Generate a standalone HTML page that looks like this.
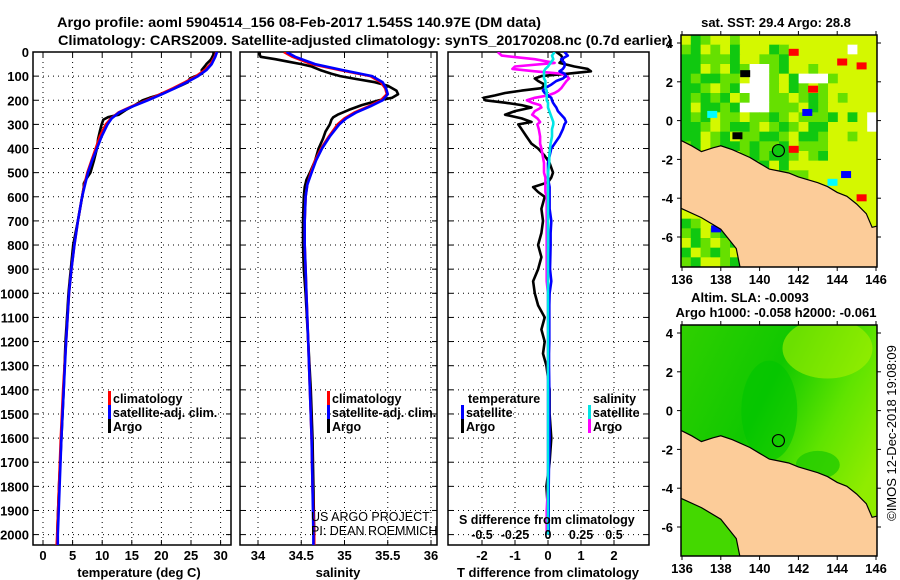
<!DOCTYPE html>
<html><head><meta charset="utf-8"><style>
html,body{margin:0;padding:0;background:#fff}
svg{display:block}
text{font-family:"Liberation Sans",sans-serif;font-weight:bold;fill:#000}
.thin{font-weight:normal}
</style></head><body>
<svg id="fig" width="900" height="580" viewBox="0 0 900 580">
<rect width="900" height="580" fill="#fff"/>
<text x="57" y="27" font-size="14" textLength="484" lengthAdjust="spacingAndGlyphs">Argo profile: aoml 5904514_156 08-Feb-2017 1.545S 140.97E (DM data)</text>
<text x="58" y="45" font-size="14" textLength="614" lengthAdjust="spacingAndGlyphs">Climatology: CARS2009. Satellite-adjusted climatology: synTS_20170208.nc (0.7d earlier)</text>
<g id="g1"></g>
<g id="g2"></g>
<g id="g3"></g>
<g id="m1"></g>
<g id="m2"></g>
<text x="776" y="27" font-size="13" text-anchor="middle">sat. SST: 29.4 Argo: 28.8</text>
<text x="750" y="302" font-size="13" text-anchor="middle">Altim. SLA: -0.0093</text>
<text x="776" y="317" font-size="13" text-anchor="middle">Argo h1000: -0.058 h2000: -0.061</text>
<text x="0" y="0" font-size="13" class="thin" transform="translate(896,433) rotate(-90)" text-anchor="middle">©IMOS 12-Dec-2018 19:08:09</text>
</svg>
<script>
// ---- profile data ----
const depthC = [0,20,50,75,100,125,150,175,200,225,250,275,300,350,400,450,500,550,600,700,800,900,1000,1200,1400,1600,1800,2000,2050];
const tClim = [29.3,29,28.3,27.3,25.9,24,22,19.8,17.5,15,12.8,11.5,10.6,9.6,8.9,8.2,7.5,7,6.6,5.9,5.3,4.8,4.4,3.9,3.4,3.0,2.7,2.4,2.3];
const tSat = [29.4,29.1,28.5,27.6,26.2,24.3,22.3,20.1,17.7,15.2,12.9,11.6,10.9,9.9,9.1,8.3,7.6,7.1,6.6,5.9,5.3,4.8,4.4,3.9,3.5,3.1,2.8,2.5,2.5];
const sClim = [34.3,34.4,34.62,34.95,35.3,35.42,35.47,35.49,35.42,35.28,35.12,35.0,34.92,34.82,34.73,34.66,34.61,34.57,34.55,34.54,34.54,34.55,34.56,34.58,34.6,34.62,34.63,34.65,34.65];
const sSat = [34.33,34.43,34.66,34.98,35.32,35.44,35.48,35.5,35.44,35.3,35.14,35.02,34.94,34.83,34.74,34.67,34.62,34.57,34.55,34.54,34.54,34.55,34.56,34.58,34.6,34.62,34.63,34.64,34.64];
const depthA = [0,10,20,30,40,50,60,75,90,100,110,125,140,160,175,190,200,220,240,260,270,280,300,330,360,400,450,500,530,545,560,600,700,800,900,1000,1200,1400,1600,1800,2000];
const tArgo = [28.8,28.8,28.6,28.4,28.0,27.6,27.3,26.8,26.9,25.8,24.8,24.5,23.2,21.3,20.0,18.0,16.8,15.5,14.0,12.8,11.0,10.2,9.9,9.6,9.3,9.1,8.6,8.0,7.2,6.9,6.9,6.6,5.9,5.1,4.7,4.3,3.8,3.5,3.1,2.7,2.4];
const sArgo = [34.02,34.02,34.03,34.2,34.35,34.5,34.62,34.72,34.85,34.95,35.1,35.35,35.5,35.6,35.62,35.55,35.4,35.2,35.05,34.92,34.87,34.85,34.83,34.78,34.75,34.7,34.66,34.6,34.56,34.55,34.54,34.53,34.52,34.52,34.53,34.55,34.58,34.61,34.63,34.64,34.65];
const depthD = [0,15,30,45,60,70,80,90,100,110,120,135,150,160,170,180,190,200,210,220,230,245,260,275,290,300,320,350,380,400,430,460,500,520,540,560,580,600,650,700,750,800,850,900,950,1000,1050,1100,1150,1200,1250,1300,1400,1500,1600,1700,1800,1900,2000];
const tdArgo = [0.25,0.4,0.45,0.35,0.8,1.2,1.3,0.6,-0.2,-0.4,-0.3,-0.1,-0.2,-0.8,-1.3,-1.6,-1.95,-1.9,-1.3,-0.8,-0.5,-1.0,-1.3,-0.8,-0.5,-0.9,-0.8,-0.65,-0.5,-0.3,-0.1,0.05,0.15,0.1,0.0,-0.45,-0.3,-0.1,-0.2,-0.15,-0.2,-0.3,-0.2,-0.3,-0.45,-0.4,-0.3,-0.1,-0.2,-0.1,-0.15,-0.05,0.05,0.05,0.1,0.05,-0.05,0.0,0.02];
const tdSat = [0.5,0.6,0.4,0.5,0.5,0.45,0.35,0.5,0.55,0.45,0.25,0.1,-0.1,-0.15,-0.1,0.0,0.1,0.12,0.15,0.2,0.25,0.3,0.4,0.5,0.55,0.5,0.45,0.35,0.2,0.1,0.05,0.0,0.0,0.0,0.02,0.05,0.05,0.05,0.05,0.1,0.08,0.08,0.07,0.06,0.1,0.05,0.04,0.04,0.04,0.04,0.03,0.03,0.04,0.04,0.05,0.03,0.02,0.02,0.02];
const sdArgo = [-0.38,-0.35,-0.1,0.05,-0.25,-0.27,-0.1,0.1,0.14,0.16,0.14,0.12,0.1,0.08,0.05,0.0,-0.1,-0.16,-0.12,-0.06,-0.05,-0.1,-0.12,-0.08,-0.06,-0.08,-0.07,-0.06,-0.06,-0.05,-0.04,-0.03,-0.03,-0.02,-0.02,-0.02,-0.02,-0.01,-0.01,-0.01,-0.01,-0.01,-0.01,-0.01,-0.01,0.0,0.0,0.0,0.0,0.0,0.0,0.0,0.0,0.0,0.0,0.0,0.0,-0.01,-0.01];
const sdSat = [0.05,0.03,0.04,0.02,0.0,-0.02,-0.03,-0.03,-0.03,-0.03,-0.02,-0.02,-0.02,-0.01,-0.01,-0.01,-0.01,-0.01,0.0,0.0,0.0,0.01,0.02,0.03,0.04,0.04,0.03,0.03,0.02,0.015,0.01,0.01,0.0,0.0,0.0,0.0,0.0,0.0,0.0,0.0,0.0,0.0,0.0,0.0,0.0,0.0,0.0,0.0,0.0,0.0,0.0,0.0,0.0,0.0,0.0,0.0,0.0,0.0,0.0];
const depthTicks = [0,100,200,300,400,500,600,700,800,900,1000,1100,1200,1300,1400,1500,1600,1700,1800,1900,2000];
const tTicks = [0,5,10,15,20,25,30];
const sTicks = [34,34.5,35,35.5,36];
const sTickLabels = ["34","34.5","35","35.5","36"];
const tdTicks = [-2,-1,0,1,2];
const sdTicks = [-0.5,-0.25,0,0.25,0.5];
const sdTickLabels = ["-0.5","-0.25","0","0.25","0.5"];
// ---- map axes ----
const lonTicks = [136,138,140,142,144,146];
const latTicks = [4,2,0,-2,-4,-6];

const NS="http://www.w3.org/2000/svg";
function mk(tag,attrs,parent){const e=document.createElementNS(NS,tag);for(const k in attrs)e.setAttribute(k,attrs[k]);parent.appendChild(e);return e;}
const TOP=52,BOT=545;
const yD=d=>TOP+d*0.2413;
const xT=t=>43+t*5.92;
const xS=s=>258+(s-34)*86.5;
const xTd=v=>548+v*33;
const xSd=v=>548+v*132;
const panels=[{g:'g1',x0:33,x1:231},{g:'g2',x0:240,x1:437},{g:'g3',x0:448,x1:649}];
const defs=mk('defs',{},document.getElementById('fig'));
panels.forEach((p,i)=>{const c=mk('clipPath',{id:'c'+i},defs);mk('rect',{x:p.x0,y:TOP,width:p.x1-p.x0,height:BOT-TOP},c);});

function grid(g,x0,x1,xs){
  depthTicks.forEach(d=>{const l=mk('line',{x1:x0,x2:x1,y1:yD(d),y2:yD(d),stroke:'#000','stroke-width':1,'stroke-dasharray':'1,4'},g);
    
    
    mk('line',{x1:x0,x2:x0+5,y1:yD(d),y2:yD(d),stroke:'#000'},g);mk('line',{x1:x1-5,x2:x1,y1:yD(d),y2:yD(d),stroke:'#000'},g);});
  xs.forEach(x=>{const l=mk('line',{x1:x,x2:x,y1:TOP,y2:BOT,stroke:'#000','stroke-width':1,'stroke-dasharray':'1,4'},g);
    
    
    mk('line',{x1:x,x2:x,y1:BOT-5,y2:BOT,stroke:'#000'},g);mk('line',{x1:x,x2:x,y1:TOP,y2:TOP+5,stroke:'#000'},g);});
  const r=mk('rect',{x:x0,y:TOP,width:x1-x0,height:BOT-TOP,fill:'none',stroke:'#000','stroke-width':1.5},g);
  
  
}
function line(g,clip,ds,vs,fx,color,name){
  const pts=ds.map((d,i)=>fx(vs[i]).toFixed(1)+','+yD(d).toFixed(1)).join(' ');
  const p=mk('polyline',{points:pts,fill:'none',stroke:color,'stroke-width':2.6,'stroke-linejoin':'round','clip-path':'url(#'+clip+')'},g);
  
  
}
function txt(g,x,y,s,size,anchor,name,cls){const t=mk('text',{x:x,y:y,'font-size':size,'text-anchor':anchor},g);if(cls)t.setAttribute('class',cls);t.textContent=s;
  
  return t;}
function legend(g,x,y,color,label){
  const b=mk('rect',{x:x,y:y-7,width:3,height:14,fill:color},g);
  
  
  txt(g,x+5,y+5,label,12.5,'start','legend-entry');
}
// panel 1
const g1=document.getElementById('g1');
grid(g1,33,231,tTicks.map(xT));
depthTicks.forEach(d=>txt(g1,29,yD(d)+5,String(d),13,'end','depth-tick-label'));
tTicks.forEach(t=>txt(g1,xT(t),560,String(t),13,'middle','temperature-tick-label'));
txt(g1,139,577,'temperature (deg C)',13,'middle','temperature-axis-title');
line(g1,'c0',depthA,tArgo,xT,'#000','argo-temperature-line');
line(g1,'c0',depthC,tClim,xT,'#ff0000','climatology-temperature-line');
line(g1,'c0',depthC,tSat,xT,'#0000ff','satellite-temperature-line');
legend(g1,108,398,'#ff0000','climatology');
legend(g1,108,412,'#0000ff','satellite-adj. clim.');
legend(g1,108,426,'#000','Argo');
// panel 2
const g2=document.getElementById('g2');
grid(g2,240,437,sTicks.map(xS));
sTicks.forEach((s,i)=>txt(g2,xS(s),560,sTickLabels[i],13,'middle','salinity-tick-label'));
txt(g2,338,577,'salinity',13,'middle','salinity-axis-title');
line(g2,'c1',depthA,sArgo,xS,'#000','argo-salinity-line');
line(g2,'c1',depthC,sClim,xS,'#ff0000','climatology-salinity-line');
line(g2,'c1',depthC,sSat,xS,'#0000ff','satellite-salinity-line');
legend(g2,327,398,'#ff0000','climatology');
legend(g2,327,412,'#0000ff','satellite-adj. clim.');
legend(g2,327,426,'#000','Argo');
txt(g2,311,521,'US ARGO PROJECT',12.5,'start','credit-project','thin');
txt(g2,311,535,'PI: DEAN ROEMMICH',12.5,'start','credit-pi','thin');
// panel 3
const g3=document.getElementById('g3');
grid(g3,448,649,tdTicks.map(xTd));
tdTicks.forEach(t=>txt(g3,xTd(t),560,String(t),13,'middle','t-diff-tick-label'));
txt(g3,548,577,'T difference from climatology',13,'middle','t-diff-axis-title');
line(g3,'c2',depthD,tdArgo,xTd,'#000','argo-t-diff-line');
line(g3,'c2',depthD,sdArgo,xSd,'#ff00ff','argo-s-diff-line');
line(g3,'c2',depthD,tdSat,xTd,'#0000ff','satellite-t-diff-line');
line(g3,'c2',depthD,sdSat,xSd,'#00e5e5','satellite-s-diff-line');
txt(g3,468,403,'temperature',12.5,'start','legend-title-temperature');
txt(g3,593,403,'salinity',12.5,'start','legend-title-salinity');
legend(g3,461,412,'#0000ff','satellite');
legend(g3,461,426,'#000','Argo');
legend(g3,588,412,'#00e5e5','satellite');
legend(g3,588,426,'#ff00ff','Argo');
txt(g3,459,524,'S difference from climatology',12.5,'start','s-diff-axis-title');
sdTicks.forEach((s,i)=>txt(g3,xSd(s),539,sdTickLabels[i],12.5,'middle','s-diff-tick-label'));

// ---- maps ----
const MX0=681,MX1=877,PX=19.4;
const lx=l=>682+(l-136)*PX;
const land=[[135.9,-1.0],[136.5,-1.3],[137,-1.6],[137.6,-1.4],[138,-1.3],[138.6,-1.5],[139.5,-1.9],[140,-2.2],[140.5,-2.5],[141,-2.6],[141.5,-2.7],[142,-2.9],[143,-3.2],[143.5,-3.4],[144,-3.7],[144.5,-3.9],[145,-4.3],[145.5,-4.8],[145.8,-5.5],[146.2,-5.4],[146.2,-7.6],[139,-7.6],[138.8,-6.6],[138,-5.6],[137,-5.0],[135.9,-4.5]];
const sstRows=["yglyylyyyyyyyyyyyyyy","lgylygyyyglyyyyyywyy","gglllgyyllgyyyyyyyyy","ggylyglwwlgyylyyyyyy","glggllywwlygwwwlyyyy","gglylgwwwlyglylyyyyy","glglgylwwllylglylyyy","gygglgwwwlllyglyyyyy","glgyllyllglylllgygyw","gglylgglylglyggyyyyw","ggylgyllgglygglyylyy","lgylgglgllgylllyyyyy","ywllgylglgglylgyyyyy","ylyylgglgygyyyyyyyyy","ylyyyyyylglllyyyyyyy","yyyyyyyyyglgyyyyyyyy","yyyyyyyyyyyygyyyyyyy","yyyyyyyyyyyyyyggyyyy","yyyyyyyyyyyyyyyyyyyy","glyylyyyyyyyyyyyyyyy","lgylgyyyyyyyyyyyyyyy","yglylgyyyyyyyyyyyyyy","gylglyyyyyyyyyyyyyyy","lgyylgyyyyyyyyyyyyyy"];
const cellColors={y:'#d4f800',g:'#10c810',l:'#66e000',w:'#ffffff'};
function drawMap(id,top,bot,isSST){
  const g=document.getElementById(id);
  const ly=l=>top+8+(4-l)*PX;
  const cp=mk('clipPath',{id:'clip'+id},defs);mk('rect',{x:MX0,y:top,width:MX1-MX0,height:bot-top},cp);
  const inner=mk('g',{'clip-path':'url(#clip'+id+')'},g);
  if(isSST){
    const ch=(bot-top)/sstRows.length,cw=(MX1-MX0)/20;
    sstRows.forEach((row,r)=>{for(let c=0;c<row.length;c++){mk('rect',{x:MX0+c*cw,y:top+r*ch,width:cw+0.5,height:ch+0.5,fill:cellColors[row[c]]},inner);}});
    [[141.5,3.7,'#ff0000'],[142.5,1.8,'#ff0000'],[145,3,'#ff0000'],[144,3.2,'#ff0000'],[141.5,-1.3,'#ff0000'],[145,-3.8,'#ff0000'],[139,2.6,'#000'],[138.6,-0.6,'#000'],[137.3,0.5,'#00ffff'],[143.5,-3.0,'#00ffff'],[144.2,-2.6,'#0000ff'],[137.5,-5.4,'#0000ff'],[142.2,0.6,'#0000ff']].forEach(p=>{
      const d=mk('rect',{x:lx(p[0]),y:ly(p[1]),width:10,height:7,fill:p[2]},inner);
      
      });
  } else {
    const gr=mk('linearGradient',{id:'slag',x1:0,y1:0,x2:1,y2:0.6},defs);
    mk('stop',{offset:'0','stop-color':'#30d000'},gr);mk('stop',{offset:'0.45','stop-color':'#10c800'},gr);mk('stop',{offset:'0.75','stop-color':'#60e400'},gr);mk('stop',{offset:'1','stop-color':'#90ec00'},gr);
    mk('rect',{x:MX0,y:top,width:MX1-MX0,height:bot-top,fill:'url(#slag)'},inner);
    mk('ellipse',{cx:lx(143.5),cy:ly(3.2),rx:45,ry:30,fill:'#a8f000',opacity:0.6},inner);
    mk('ellipse',{cx:lx(140.5),cy:ly(0),rx:28,ry:50,fill:'#00c400',opacity:0.6},inner);
    mk('ellipse',{cx:lx(143),cy:ly(-2.8),rx:22,ry:14,fill:'#18c800',opacity:0.7},inner);
    mk('rect',{x:MX0,y:ly(-4.6),width:lx(138.5)-MX0,height:bot-ly(-4.6),fill:'#44d800'},inner);
  }
  const pts=land.map(p=>lx(p[0]).toFixed(1)+','+ly(p[1]).toFixed(1)).join(' ');
  const lp=mk('polygon',{points:pts,fill:'#fccc99',stroke:'#000','stroke-width':1.2},inner);
  
  
  const c=mk('circle',{cx:lx(140.97),cy:ly(-1.545),r:6,fill:isSST?'#10c810':'none',stroke:'#000','stroke-width':1.2},g);
  
  
  const fr=mk('rect',{x:MX0,y:top,width:MX1-MX0,height:bot-top,fill:'none',stroke:'#000','stroke-width':1.5},g);
  
  
  lonTicks.forEach(l=>{mk('line',{x1:lx(l),x2:lx(l),y1:top-4,y2:top,stroke:'#000'},g);mk('line',{x1:lx(l),x2:lx(l),y1:bot,y2:bot+4,stroke:'#000'},g);
    txt(g,lx(l),bot+17,String(l),13,'middle','longitude-tick-label');});
  latTicks.forEach(l=>{mk('line',{x1:MX0-4,x2:MX0,y1:ly(l),y2:ly(l),stroke:'#000'},g);mk('line',{x1:MX1,x2:MX1+4,y1:ly(l),y2:ly(l),stroke:'#000'},g);
    txt(g,673,ly(l)+5,String(l),13,'end','latitude-tick-label');});
}
drawMap('m1',35,267,true);
drawMap('m2',325,556,false);
</script>
</body></html>
